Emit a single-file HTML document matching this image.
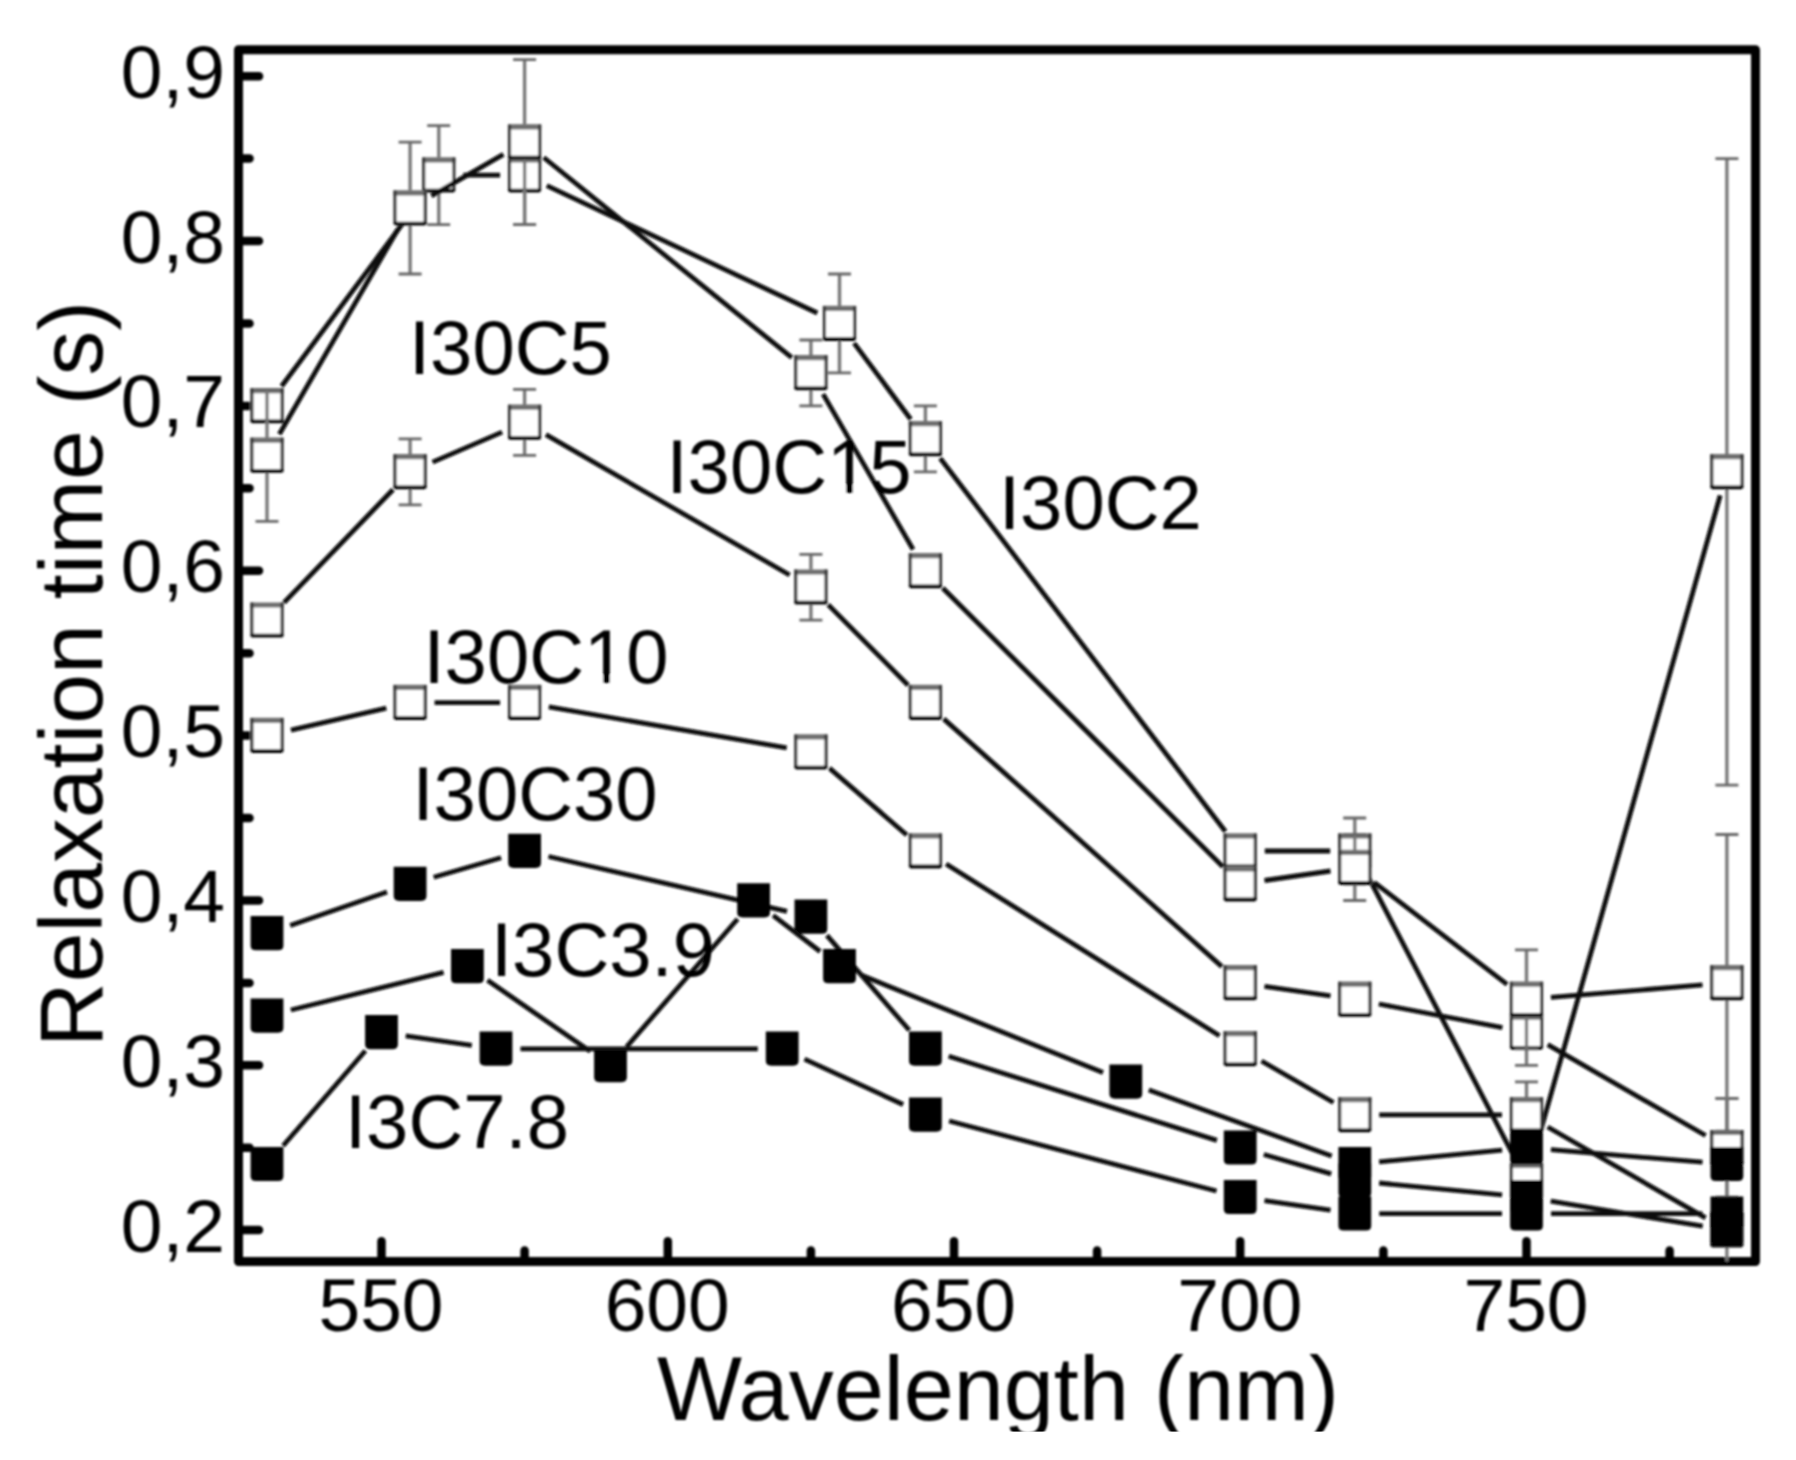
<!DOCTYPE html>
<html lang="en"><head><meta charset="utf-8"><title>Relaxation time vs wavelength</title>
<style>html,body{margin:0;padding:0;background:#fff}body{width:1796px;height:1460px;overflow:hidden}svg{display:block}</style>
</head><body>
<svg width="1796" height="1460" viewBox="0 0 1796 1460" font-family="'Liberation Sans', sans-serif" fill="#050505">
<defs><clipPath id="pc"><rect x="238.5" y="49.8" width="1517.0" height="1211.7"/></clipPath>
<g id="om"><rect x="-16.6" y="-17.6" width="33.2" height="34.8" fill="#fff"/><path d="M-16.6 -15.2H16.6" stroke="#6e6e6e" stroke-width="5.2" fill="none"/><path d="M-15.1 -17.6V16M15.1 -17.6V16" stroke="#383838" stroke-width="3.2" fill="none"/><path d="M-14.7 15.5H14.7" stroke="#000" stroke-width="3.8" stroke-linecap="round" fill="none"/></g>
<g id="sm"><path d="M-16.4 -17.3H16.4V12Q16.4 16.9 11 16.9H-11Q-16.4 16.9 -16.4 12Z" fill="#000"/></g>
<filter id="bl" x="-2%" y="-2%" width="104%" height="104%"><feGaussianBlur stdDeviation="0.9"/></filter></defs>
<g filter="url(#bl)">
<rect x="238.5" y="49.8" width="1517.0" height="1211.7" fill="none" stroke="#000" stroke-width="9" stroke-linejoin="round"/>
<g stroke="#000" stroke-width="8.5" stroke-linecap="round"><line x1="238.5" y1="1230.1" x2="259.0" y2="1230.1"/><line x1="238.5" y1="1065.3" x2="259.0" y2="1065.3"/><line x1="238.5" y1="900.5" x2="259.0" y2="900.5"/><line x1="238.5" y1="735.6" x2="259.0" y2="735.6"/><line x1="238.5" y1="570.8" x2="259.0" y2="570.8"/><line x1="238.5" y1="405.9" x2="259.0" y2="405.9"/><line x1="238.5" y1="241.0" x2="259.0" y2="241.0"/><line x1="238.5" y1="76.2" x2="259.0" y2="76.2"/><line x1="238.5" y1="1147.7" x2="249.5" y2="1147.7"/><line x1="238.5" y1="982.9" x2="249.5" y2="982.9"/><line x1="238.5" y1="818.0" x2="249.5" y2="818.0"/><line x1="238.5" y1="653.2" x2="249.5" y2="653.2"/><line x1="238.5" y1="488.3" x2="249.5" y2="488.3"/><line x1="238.5" y1="323.5" x2="249.5" y2="323.5"/><line x1="238.5" y1="158.6" x2="249.5" y2="158.6"/><line x1="381.5" y1="1261.5" x2="381.5" y2="1241.3"/><line x1="667.8" y1="1261.5" x2="667.8" y2="1241.3"/><line x1="954.0" y1="1261.5" x2="954.0" y2="1241.3"/><line x1="1240.2" y1="1261.5" x2="1240.2" y2="1241.3"/><line x1="1526.5" y1="1261.5" x2="1526.5" y2="1241.3"/><line x1="524.6" y1="1261.5" x2="524.6" y2="1250.5"/><line x1="810.9" y1="1261.5" x2="810.9" y2="1250.5"/><line x1="1097.1" y1="1261.5" x2="1097.1" y2="1250.5"/><line x1="1383.4" y1="1261.5" x2="1383.4" y2="1250.5"/><line x1="1669.6" y1="1261.5" x2="1669.6" y2="1250.5"/></g>
<g clip-path="url(#pc)">
<g stroke="#0a0a0a" stroke-width="4.8" stroke-linecap="butt"><line x1="281.6" y1="386.2" x2="424.1" y2="194.8"/><line x1="463.2" y1="175.1" x2="500.1" y2="175.1"/><line x1="546.8" y1="185.6" x2="817.3" y2="313.0"/><line x1="854.1" y1="343.1" x2="910.7" y2="419.2"/><line x1="940.2" y1="458.3" x2="1225.4" y2="831.5"/><line x1="1264.8" y1="851.0" x2="1330.2" y2="851.0"/><line x1="1366.1" y1="872.7" x2="1515.2" y2="1159.0"/><line x1="1533.2" y1="1157.1" x2="1720.2" y2="495.4"/></g>
<g stroke="#666" stroke-width="2.8" fill="none"><path stroke-width="3.3" stroke="#767676" d="M438.8 125.7V224.6"/><path d="M427.2 125.7H450.2M427.2 224.6H450.2"/><path stroke-width="3.3" stroke="#767676" d="M524.6 125.7V224.6"/><path d="M513.1 125.7H536.1M513.1 224.6H536.1"/><path stroke-width="3.3" stroke="#767676" d="M839.5 274.0V372.9"/><path d="M828.0 274.0H851.0M828.0 372.9H851.0"/><path stroke-width="3.3" stroke="#767676" d="M925.4 405.9V471.8"/><path d="M913.9 405.9H936.9M913.9 471.8H936.9"/><path stroke-width="3.3" stroke="#767676" d="M1354.8 818.0V884.0"/><path d="M1343.2 818.0H1366.2M1343.2 884.0H1366.2"/><path stroke-width="3.3" stroke="#767676" d="M1726.9 158.6V785.1"/><path d="M1715.4 158.6H1738.4M1715.4 785.1H1738.4"/></g>
<g><use href="#om" x="267.0" y="405.9"/><use href="#om" x="438.8" y="175.1"/><use href="#om" x="524.6" y="175.1"/><use href="#om" x="839.5" y="323.5"/><use href="#om" x="925.4" y="438.9"/><use href="#om" x="1240.2" y="851.0"/><use href="#om" x="1354.8" y="851.0"/><use href="#om" x="1526.5" y="1180.7"/><use href="#om" x="1726.9" y="471.8"/></g>
<g stroke="#0a0a0a" stroke-width="4.8" stroke-linecap="butt"><line x1="290.9" y1="730.1" x2="386.3" y2="708.1"/><line x1="434.6" y1="702.6" x2="500.1" y2="702.6"/><line x1="548.8" y1="706.8" x2="786.7" y2="747.9"/><line x1="829.4" y1="768.1" x2="906.8" y2="835.0"/><line x1="946.1" y1="864.0" x2="1219.5" y2="1035.8"/><line x1="1261.5" y1="1061.0" x2="1333.5" y2="1102.5"/><line x1="1379.2" y1="1114.8" x2="1502.0" y2="1114.8"/><line x1="1547.7" y1="1127.0" x2="1705.6" y2="1217.9"/></g>
<g stroke="#666" stroke-width="2.8" fill="none"><path stroke-width="3.3" stroke="#767676" d="M1526.5 1081.8V1147.7"/><path d="M1515.0 1081.8H1538.0M1515.0 1147.7H1538.0"/><path stroke-width="3.3" stroke="#767676" d="M1726.9 1098.3V1362.0"/><path d="M1715.4 1098.3H1738.4M1715.4 1362.0H1738.4"/></g>
<g><use href="#om" x="267.0" y="735.6"/><use href="#om" x="410.1" y="702.6"/><use href="#om" x="524.6" y="702.6"/><use href="#om" x="810.9" y="752.1"/><use href="#om" x="925.4" y="851.0"/><use href="#om" x="1240.2" y="1048.8"/><use href="#om" x="1354.8" y="1114.8"/><use href="#om" x="1526.5" y="1114.8"/><use href="#om" x="1726.9" y="1230.1"/></g>
<g stroke="#0a0a0a" stroke-width="4.8" stroke-linecap="butt"><line x1="284.0" y1="602.6" x2="393.1" y2="489.5"/><line x1="432.6" y1="462.1" x2="502.1" y2="432.1"/><line x1="545.9" y1="434.6" x2="789.6" y2="575.0"/><line x1="828.1" y1="604.6" x2="908.1" y2="685.2"/><line x1="943.7" y1="718.9" x2="1221.9" y2="966.6"/><line x1="1264.5" y1="986.4" x2="1330.5" y2="995.9"/><line x1="1378.8" y1="1004.0" x2="1502.4" y2="1027.7"/><line x1="1547.7" y1="1044.6" x2="1705.6" y2="1135.5"/></g>
<g stroke="#666" stroke-width="2.8" fill="none"><path stroke-width="3.3" stroke="#767676" d="M410.1 438.9V504.8"/><path d="M398.6 438.9H421.6M398.6 504.8H421.6"/><path stroke-width="3.3" stroke="#767676" d="M524.6 389.4V455.4"/><path d="M513.1 389.4H536.1M513.1 455.4H536.1"/><path stroke-width="3.3" stroke="#767676" d="M810.9 554.3V620.2"/><path d="M799.4 554.3H822.4M799.4 620.2H822.4"/><path stroke-width="3.3" stroke="#767676" d="M1526.5 999.4V1065.3"/><path d="M1515.0 999.4H1538.0M1515.0 1065.3H1538.0"/><path stroke-width="3.3" stroke="#767676" d="M1726.9 1098.3V1197.2"/><path d="M1715.4 1098.3H1738.4M1715.4 1197.2H1738.4"/></g>
<g><use href="#om" x="267.0" y="620.2"/><use href="#om" x="410.1" y="471.8"/><use href="#om" x="524.6" y="422.4"/><use href="#om" x="810.9" y="587.2"/><use href="#om" x="925.4" y="702.6"/><use href="#om" x="1240.2" y="982.9"/><use href="#om" x="1354.8" y="999.4"/><use href="#om" x="1526.5" y="1032.3"/><use href="#om" x="1726.9" y="1147.7"/></g>
<g stroke="#0a0a0a" stroke-width="4.8" stroke-linecap="butt"><line x1="279.3" y1="434.2" x2="397.9" y2="229.3"/><line x1="431.4" y1="195.9" x2="503.4" y2="154.4"/><line x1="543.7" y1="157.5" x2="791.8" y2="357.6"/><line x1="823.1" y1="394.1" x2="913.1" y2="549.5"/><line x1="942.7" y1="588.0" x2="1222.9" y2="866.7"/><line x1="1264.5" y1="880.5" x2="1330.5" y2="871.0"/><line x1="1374.2" y1="882.4" x2="1507.1" y2="984.4"/><line x1="1550.9" y1="997.4" x2="1702.5" y2="984.9"/></g>
<g stroke="#666" stroke-width="2.8" fill="none"><path stroke-width="3.3" stroke="#767676" d="M267.0 389.4V521.3"/><path d="M255.5 389.4H278.5M255.5 521.3H278.5"/><path stroke-width="3.3" stroke="#767676" d="M410.1 142.1V274.0"/><path d="M398.6 142.1H421.6M398.6 274.0H421.6"/><path stroke-width="3.3" stroke="#767676" d="M524.6 59.7V224.6"/><path d="M513.1 59.7H536.1M513.1 224.6H536.1"/><path stroke-width="3.3" stroke="#767676" d="M810.9 340.0V405.9"/><path d="M799.4 340.0H822.4M799.4 405.9H822.4"/><path stroke-width="3.3" stroke="#767676" d="M1354.8 834.5V900.5"/><path d="M1343.2 834.5H1366.2M1343.2 900.5H1366.2"/><path stroke-width="3.3" stroke="#767676" d="M1526.5 949.9V1048.8"/><path d="M1515.0 949.9H1538.0M1515.0 1048.8H1538.0"/><path stroke-width="3.3" stroke="#767676" d="M1726.9 834.5V1131.2"/><path d="M1715.4 834.5H1738.4M1715.4 1131.2H1738.4"/></g>
<g><use href="#om" x="267.0" y="455.4"/><use href="#om" x="410.1" y="208.1"/><use href="#om" x="524.6" y="142.1"/><use href="#om" x="810.9" y="372.9"/><use href="#om" x="925.4" y="570.8"/><use href="#om" x="1240.2" y="884.0"/><use href="#om" x="1354.8" y="867.5"/><use href="#om" x="1526.5" y="999.4"/><use href="#om" x="1726.9" y="982.9"/></g>
<g stroke="#0a0a0a" stroke-width="4.8"><line x1="290.2" y1="925.4" x2="387.0" y2="892.0"/><line x1="433.7" y1="877.2" x2="501.1" y2="857.8"/><line x1="548.5" y1="856.5" x2="787.0" y2="911.4"/><line x1="826.9" y1="935.4" x2="909.3" y2="1030.3"/><line x1="948.7" y1="1056.2" x2="1216.9" y2="1140.4"/><line x1="1263.8" y1="1154.5" x2="1331.2" y2="1173.9"/><line x1="1379.1" y1="1183.0" x2="1502.1" y2="1194.8"/><line x1="1550.7" y1="1201.2" x2="1702.7" y2="1226.2"/></g>
<g fill="#000"><use href="#sm" x="267.0" y="933.4"/><use href="#sm" x="410.1" y="884.0"/><use href="#sm" x="524.6" y="851.0"/><use href="#sm" x="810.9" y="916.9"/><use href="#sm" x="925.4" y="1048.8"/><use href="#sm" x="1240.2" y="1147.7"/><use href="#sm" x="1354.8" y="1180.7"/><use href="#sm" x="1526.5" y="1197.2"/><use href="#sm" x="1726.9" y="1230.1"/></g>
<g stroke="#0a0a0a" stroke-width="4.8"><line x1="290.8" y1="1010.0" x2="443.6" y2="972.3"/><line x1="487.5" y1="980.3" x2="590.3" y2="1051.4"/><line x1="626.6" y1="1046.8" x2="737.6" y2="919.0"/><line x1="773.1" y1="915.4" x2="820.1" y2="951.5"/><line x1="862.2" y1="975.6" x2="1103.0" y2="1072.6"/><line x1="1148.8" y1="1090.1" x2="1331.7" y2="1155.9"/><line x1="1379.1" y1="1161.9" x2="1502.1" y2="1150.1"/><line x1="1550.9" y1="1149.7" x2="1702.5" y2="1162.2"/></g>
<g fill="#000"><use href="#sm" x="267.0" y="1015.8"/><use href="#sm" x="467.4" y="966.4"/><use href="#sm" x="610.5" y="1065.3"/><use href="#sm" x="753.6" y="900.5"/><use href="#sm" x="839.5" y="966.4"/><use href="#sm" x="1125.8" y="1081.8"/><use href="#sm" x="1354.8" y="1164.2"/><use href="#sm" x="1526.5" y="1147.7"/><use href="#sm" x="1726.9" y="1164.2"/></g>
<g stroke="#0a0a0a" stroke-width="4.8"><line x1="283.1" y1="1145.7" x2="365.4" y2="1050.8"/><line x1="405.7" y1="1035.8" x2="471.8" y2="1045.3"/><line x1="520.5" y1="1048.8" x2="757.8" y2="1048.8"/><line x1="804.5" y1="1059.1" x2="903.1" y2="1104.5"/><line x1="949.1" y1="1121.0" x2="1216.5" y2="1191.0"/><line x1="1264.5" y1="1200.7" x2="1330.5" y2="1210.2"/><line x1="1379.2" y1="1213.7" x2="1502.0" y2="1213.7"/><line x1="1551.0" y1="1213.7" x2="1702.4" y2="1213.7"/></g>
<g fill="#000"><use href="#sm" x="267.0" y="1164.2"/><use href="#sm" x="381.5" y="1032.3"/><use href="#sm" x="496.0" y="1048.8"/><use href="#sm" x="782.2" y="1048.8"/><use href="#sm" x="925.4" y="1114.8"/><use href="#sm" x="1240.2" y="1197.2"/><use href="#sm" x="1354.8" y="1213.7"/><use href="#sm" x="1526.5" y="1213.7"/><use href="#sm" x="1726.9" y="1213.7"/></g>
</g>
<text x="225" y="1251.6" text-anchor="end" font-size="75">0,2</text>
<text x="225" y="1086.8" text-anchor="end" font-size="75">0,3</text>
<text x="225" y="922.0" text-anchor="end" font-size="75">0,4</text>
<text x="225" y="757.1" text-anchor="end" font-size="75">0,5</text>
<text x="225" y="592.3" text-anchor="end" font-size="75">0,6</text>
<text x="225" y="427.4" text-anchor="end" font-size="75">0,7</text>
<text x="225" y="262.5" text-anchor="end" font-size="75">0,8</text>
<text x="225" y="97.7" text-anchor="end" font-size="75">0,9</text>
<text x="381.0" y="1330.5" text-anchor="middle" font-size="75">550</text>
<text x="667.2" y="1330.5" text-anchor="middle" font-size="75">600</text>
<text x="953.5" y="1330.5" text-anchor="middle" font-size="75">650</text>
<text x="1239.8" y="1330.5" text-anchor="middle" font-size="75">700</text>
<text x="1526.0" y="1330.5" text-anchor="middle" font-size="75">750</text>
<text x="409" y="373.5" font-size="76">I30C5</text>
<text x="666.5" y="493" font-size="76">I30C15</text>
<text x="999" y="528.5" font-size="76">I30C2</text>
<text x="423.5" y="683" font-size="76">I30C10</text>
<text x="412.5" y="820" font-size="76">I30C30</text>
<text x="491" y="975.5" font-size="76">I3C3.9</text>
<text x="345" y="1147.5" font-size="76">I3C7.8</text>
<rect x="587.50" y="675.6" width="15.64" height="9.6" fill="#fff"/><rect x="609.86" y="675.6" width="15" height="9.6" fill="#fff"/>
<rect x="830.50" y="485.6" width="15.64" height="9.6" fill="#fff"/><rect x="852.86" y="485.6" width="15" height="9.6" fill="#fff"/>
<text x="657" y="1420" font-size="90">Wavelength (nm)</text>
<text transform="translate(102,1047) rotate(-90)" font-size="89.5">Relaxation time (s)</text>
</g>
<rect x="0" y="1431.6" width="1796" height="28.40000000000009" fill="#fff"/>
</svg>
</body></html>
